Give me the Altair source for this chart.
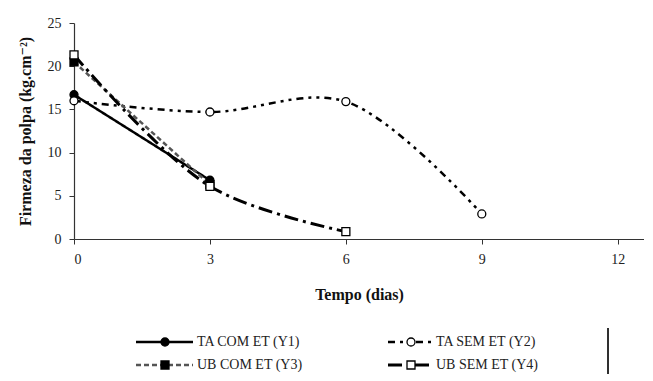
import altair as alt
import pandas as pd

# ---- data ----
days = [0, 3, 6, 9]
series = ["TA COM ET (Y1)", "TA SEM ET (Y2)", "UB COM ET (Y3)", "UB SEM ET (Y4)"]
ta_com_et = [16.7, 6.8]
ta_sem_et = [16.0, 14.7, 15.9, 2.9]
ub_com_et = [20.5, 6.3]
ub_sem_et = [21.3, 6.1, 0.85]
x_ticks = [0, 3, 6, 9, 12]
y_ticks = [0, 5, 10, 15, 20, 25]

values = [ta_com_et, ta_sem_et, ub_com_et, ub_sem_et]
rows = []
for s, v in zip(series, values):
    for d, y in zip(days, v):
        rows.append({"serie": s, "dias": d, "firmeza": y})
df = pd.DataFrame(rows)

# ---- styles ----
FONT = "Liberation Serif, DejaVu Serif, serif"
dash = {series[0]: [1, 0], series[1]: [7, 5, 3, 5, 3, 5], series[2]: [5, 3], series[3]: [14, 5, 3, 5]}
swidth = {series[0]: 2.5, series[1]: 2.5, series[2]: 2.5, series[3]: 3}
scolor = {series[0]: "#000000", series[1]: "#000000", series[2]: "#555555", series[3]: "#000000"}
shapes = ["circle", "circle", "square", "square"]
fills = ["#000000", "#ffffff", "#000000", "#ffffff"]

W, H = 570, 216
x_scale = alt.Scale(domain=[0, 12.58], nice=False)
y_scale = alt.Scale(domain=[0, 25], nice=False)

axis_common = dict(grid=False, labelFont=FONT, titleFont=FONT, labelFontSize=14, titleFontSize=16,
                   titleFontWeight="bold", labelColor="#222222", titleColor="#111111",
                   domainColor="#333333", tickColor="#333333", tickSize=5, domainWidth=1.2,
                   labelPadding=8)

layers = []
for s in series:
    layers.append(
        alt.Chart(df).transform_filter(alt.datum.serie == s)
        .mark_line(interpolate="catmull-rom", color=scolor[s], strokeWidth=swidth[s], strokeDash=dash[s])
        .encode(
            x=alt.X("dias:Q", scale=x_scale,
                    axis=alt.Axis(values=x_ticks, title="Tempo (dias)", titlePadding=20, **axis_common)),
            y=alt.Y("firmeza:Q", scale=y_scale,
                    axis=alt.Axis(values=y_ticks, title="Firmeza da polpa (kg.cm⁻²)", titlePadding=14, **axis_common)),
        )
    )

points = alt.Chart(df).mark_point(filled=False, size=64, stroke="#000000", strokeWidth=1.3, opacity=1).encode(
    x=alt.X("dias:Q", scale=x_scale),
    y=alt.Y("firmeza:Q", scale=y_scale),
    shape=alt.Shape("serie:N", scale=alt.Scale(domain=series, range=shapes), legend=None),
    fill=alt.Fill("serie:N", scale=alt.Scale(domain=series, range=fills), legend=None),
)

main = alt.layer(*layers, points).properties(width=W, height=H)

# ---- custom legend (two columns) ----
col_of = [0, 1, 0, 1]
row_of = [0, 0, 1, 1]
col_start = [62, 314]
line_len = [57, 46]
marker_off = [29, 23]
text_off = [61, 48]
row_y = [36, 59]
LH = 68

leg_rows = []
for i, s in enumerate(series):
    c, r = col_of[i], row_of[i]
    leg_rows.append({
        "serie": s,
        "x1": col_start[c], "x2": col_start[c] + line_len[c],
        "xm": col_start[c] + marker_off[c], "xt": col_start[c] + text_off[c],
        "y": row_y[r],
    })
ldf = pd.DataFrame(leg_rows)
lx = alt.Scale(domain=[0, W], nice=False)
ly = alt.Scale(domain=[0, LH], nice=False, reverse=True)

leg_layers = []
for s in series:
    leg_layers.append(
        alt.Chart(ldf).transform_filter(alt.datum.serie == s)
        .mark_rule(color=scolor[s], strokeWidth=swidth[s], strokeDash=dash[s])
        .encode(x=alt.X("x1:Q", scale=lx, axis=None), x2="x2:Q",
                y=alt.Y("y:Q", scale=ly, axis=None))
    )
leg_pts = alt.Chart(ldf).mark_point(filled=False, size=64, stroke="#000000", strokeWidth=1.3, opacity=1).encode(
    x=alt.X("xm:Q", scale=lx, axis=None),
    y=alt.Y("y:Q", scale=ly, axis=None),
    shape=alt.Shape("serie:N", scale=alt.Scale(domain=series, range=shapes), legend=None),
    fill=alt.Fill("serie:N", scale=alt.Scale(domain=series, range=fills), legend=None),
)
leg_txt = alt.Chart(ldf).mark_text(align="left", baseline="middle", font=FONT, fontSize=14, color="#222222").encode(
    x=alt.X("xt:Q", scale=lx, axis=None),
    y=alt.Y("y:Q", scale=ly, axis=None),
    text="serie:N",
)
border = alt.Chart(ldf).mark_rule(color="#222222", strokeWidth=1).encode(
    x=alt.value(534), y=alt.value(22), y2=alt.value(LH)
)
legend = alt.layer(*leg_layers, leg_pts, leg_txt, border).properties(width=W, height=LH)

chart = alt.vconcat(main, legend, spacing=4).properties(
    padding={"left": 9, "top": 8, "right": 0, "bottom": 0}
).configure(font=FONT).configure_view(stroke=None)

chart.save("out.html", embed_options={"renderer": "svg", "actions": False})
